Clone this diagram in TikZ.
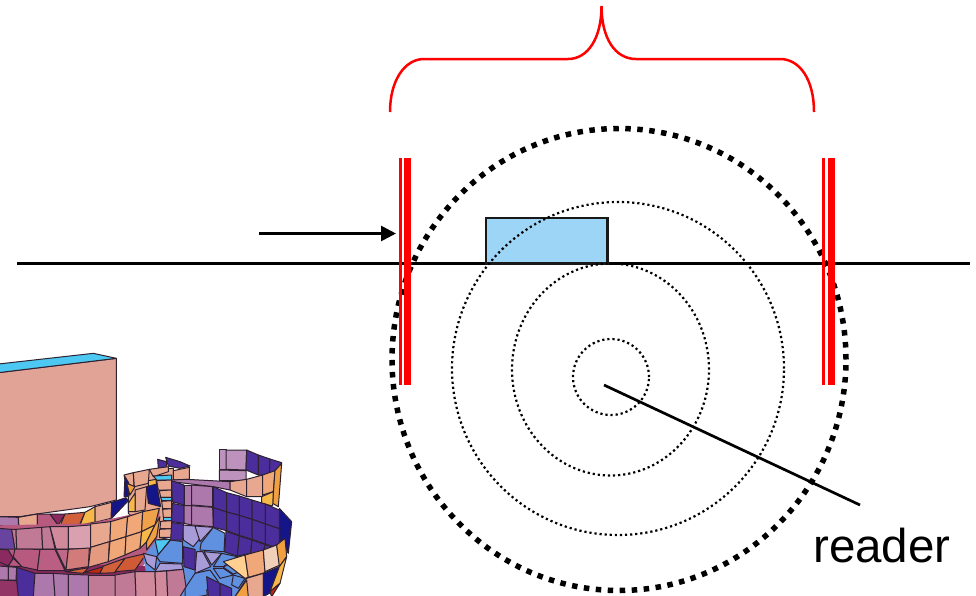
\documentclass[tikz,border=0pt]{standalone}
\usepackage{fontspec}
\setmainfont{Liberation Sans}
\usetikzlibrary{arrows.meta}
\definecolor{slab}{HTML}{E0A396}
\definecolor{cy}{HTML}{4CC8F2}
\definecolor{pk}{HTML}{E8A890}
\definecolor{pe}{HTML}{F0A878}
\definecolor{og}{HTML}{F0A040}
\definecolor{yl}{HTML}{F7B84A}
\definecolor{dk}{HTML}{15158A}
\definecolor{vi}{HTML}{4B2D9B}
\definecolor{mv}{HTML}{AD78AC}
\definecolor{ro}{HTML}{C07A95}
\definecolor{rs}{HTML}{D08A9C}
\definecolor{ma}{HTML}{B85A80}
\definecolor{wi}{HTML}{8A2A60}
\definecolor{sa}{HTML}{D2603A}
\definecolor{rd}{HTML}{C02810}
\definecolor{lv}{HTML}{A89CD8}
\definecolor{bl}{HTML}{6090E0}
\definecolor{pl}{HTML}{FFD090}
\definecolor{cr}{HTML}{F0D0B8}
\definecolor{sky}{HTML}{9DD5F6}
\definecolor{meshline}{HTML}{2E2230}
\tikzset{
  meshface/.style={draw=meshline,line width=1pt,line join=round},
  heavydots/.style={draw=black,line width=5.5pt,dash pattern=on 5.5pt off 6.5pt},
  finedots/.style={draw=black,line width=2.2pt,dash pattern=on 2.2pt off 2.9pt},
  redbar/.style={fill=red,draw=none},
  bracecurve/.style={draw=red,line width=2.5pt},
  blackline/.style={draw=black,line width=2.7pt},
  blockbox/.style={draw=black!90,line width=2.4pt,fill=sky},
  labeltext/.style={font=\fontsize{47.5}{47.5}\selectfont,inner sep=0pt,anchor=base west}
}
\newcommand\mq[2]{\filldraw[meshface,fill=#1] #2 -- cycle;}
\begin{document}
\begin{tikzpicture}[x=1pt,y=-1pt]
\useasboundingbox (0,0) rectangle (976,595);
% mesh figure, in coordinates of a 3x grid
\begin{scope}
\clip (0,0) rectangle (976,595);
\begin{scope}[yshift=-340pt,x=0.33333pt,y=-0.33333pt]
\mq{slab}{(-5,98)--(349,55)--(349,480)--(270,500)--(110,522)--(60,530)--(-5,530)}
\mq{cy}{(-5,72)--(280,40)--(349,55)--(-5,98)}
% back wave
\mq{vi}{(473,358)--(500,365)--(500,385)--(475,385)}
\mq{vi}{(497,352)--(540,365)--(570,378)--(540,385)--(505,378)}
\mq{pk}{(385,430)--(450,390)--(520,385)--(520,590)--(470,600)--(385,520)}
\mq{pk}{(372,405)--(400,398)--(402,440)--(385,470)}
\mq{pk}{(400,398)--(448,388)--(445,430)--(403,440)}
\mq{pk}{(405,450)--(440,440)--(435,510)--(405,515)}
\mq{pk}{(448,388)--(505,380)--(505,395)--(460,410)}
\mq{pk}{(520,392)--(568,382)--(568,418)--(520,420)}
\mq{cy}{(460,408)--(515,405)--(515,420)--(470,420)}
\mq{pk}{(470,422)--(515,420)--(515,450)--(475,450)}
\mq{pk}{(478,452)--(515,450)--(515,472)--(482,472)}
\mq{cy}{(482,472)--(515,472)--(515,482)--(485,482)}
\mq{pk}{(485,484)--(515,482)--(515,506)--(488,506)}
\mq{pk}{(488,508)--(515,506)--(515,532)--(490,532)}
\mq{cy}{(490,532)--(515,532)--(515,542)--(490,542)}
\mq{pk}{(482,544)--(515,542)--(515,566)--(480,566)}
\mq{pk}{(478,568)--(515,566)--(515,592)--(478,592)}
\mq{yl}{(445,422)--(468,418)--(470,440)--(445,445)}
\mq{dk}{(440,440)--(470,432)--(482,500)--(445,490)}
\mq{dk}{(375,410)--(387,430)--(385,470)--(372,470)}
\mq{og}{(380,430)--(405,440)--(390,465)}
\mq{yl}{(385,490)--(405,460)--(405,515)--(385,515)}
% upper strip
\mq{mv}{(-5,530)--(55,532)--(55,562)--(-5,556)}
\mq{pk}{(55,532)--(112,522)--(112,564)--(57,564)}
\mq{ma}{(112,522)--(150,522)--(175,556)--(112,565)}
\mq{wi}{(150,522)--(195,522)--(175,556)}
\mq{sa}{(195,522)--(255,517)--(238,556)--(180,558)}
\mq{yl}{(255,517)--(285,500)--(285,546)--(240,556)}
\mq{pk}{(285,500)--(335,487)--(333,535)--(285,547)}
\mq{dk}{(335,487)--(378,473)--(385,482)--(335,535)}
% band underlay
\fill[ma] (-5,556) -- (270,550) -- (480,505) -- (470,620) -- (420,690) -- (300,705) -- (-5,700) -- cycle;
\fill[wi] (-5,670) -- (560,680) -- (560,770) -- (-5,770) -- cycle;
% front band, first row
\mq{vi!70!mv}{(-5,565)--(35,568)--(45,627)--(-5,627)}
\mq{ro}{(35,568)--(48,568)--(50,627)--(45,627)}
\mq{ro}{(48,568)--(125,562)--(128,627)--(50,627)}
\mq{ro}{(125,562)--(150,560)--(165,627)--(128,627)}
\mq{rs}{(150,560)--(205,560)--(205,627)--(168,627)}
\mq{rs!80!white}{(205,560)--(272,555)--(272,625)--(205,627)}
\mq{pk}{(272,552)--(332,545)--(330,605)--(272,622)}
\mq{pe}{(332,545)--(383,530)--(378,590)--(330,605)}
\mq{pe}{(383,530)--(428,515)--(425,575)--(378,590)}
\mq{og!80!pe}{(428,515)--(478,505)--(465,555)--(425,575)}
% second row
\mq{wi}{(-5,627)--(25,630)--(40,655)--(25,678)--(-5,665)}
\mq{ma}{(25,678)--(40,655)--(65,680)}
\mq{ma}{(45,627)--(120,628)--(112,690)--(65,680)--(40,650)}
\mq{ma!90!rs}{(120,628)--(165,628)--(195,692)--(112,692)}
\mq{ma!70!rs}{(168,628)--(205,628)--(198,690)}
\mq{sa!35!rs}{(205,628)--(268,624)--(265,680)--(198,690)}
\mq{sa!20!pk}{(272,622)--(328,605)--(325,665)--(265,682)}
\mq{pe}{(330,605)--(378,590)--(375,645)--(325,665)}
\mq{pe}{(378,590)--(425,575)--(420,625)--(375,645)}
\mq{yl}{(425,575)--(465,555)--(440,605)--(420,625)}
\mq{og}{(465,555)--(480,530)--(470,590)--(440,630)--(440,605)}
% underside
\mq{sa}{(195,695)--(265,683)--(250,700)}
\mq{rd}{(250,698)--(310,680)--(300,700)}
\mq{sa}{(310,678)--(375,655)--(345,698)--(300,700)}
\mq{sa!90!rd}{(375,655)--(440,640)--(405,690)--(345,695)}
% rear right band
\mq{mv!80!white}{(658,328)--(678,328)--(678,388)--(658,388)}
\mq{mv!80!white}{(678,330)--(740,330)--(738,390)--(678,388)}
\mq{mv!80!white}{(658,390)--(738,392)--(738,422)--(658,422)}
\mq{vi}{(740,330)--(775,345)--(775,405)--(738,390)}
\mq{vi}{(775,345)--(810,357)--(808,405)--(775,405)}
\mq{vi}{(810,357)--(845,368)--(830,395)--(808,405)}
\mq{mv}{(515,420)--(560,418)--(690,425)--(690,450)--(640,440)--(515,425)}
\mq{pk}{(690,425)--(740,418)--(740,470)--(690,450)}
\mq{pk}{(740,418)--(788,405)--(788,470)--(740,470)}
\mq{pe}{(788,405)--(825,392)--(820,455)--(788,465)}
\mq{og}{(825,392)--(845,370)--(835,500)--(818,490)}
\mq{yl}{(785,470)--(820,455)--(818,498)--(785,490)}
\mq{dk}{(838,505)--(875,545)--(865,640)--(840,600)}
% inner lower surface
\fill[bl] (470,600) -- (720,590) -- (790,640) -- (780,770) -- (450,770) -- (430,650) -- cycle;
\mq{cy}{(465,600)--(512,598)--(475,645)}
\mq{bl}{(512,600)--(548,605)--(548,670)--(480,665)--(470,650)}
\mq{lv}{(430,640)--(470,650)--(465,690)--(440,670)}
\mq{lv}{(480,670)--(545,672)--(550,688)--(465,695)}
\mq{lv}{(548,555)--(585,558)--(600,595)--(580,620)--(550,600)}
\mq{lv}{(585,558)--(640,562)--(600,605)}
\mq{bl}{(640,562)--(675,580)--(672,635)--(600,630)--(603,610)}
\mq{vi}{(550,620)--(585,628)--(585,690)--(552,680)}
\mq{lv}{(590,635)--(608,635)--(632,680)--(585,700)}
\mq{lv}{(612,635)--(665,640)--(635,675)}
\mq{bl}{(665,640)--(712,650)--(670,680)--(640,680)}
\mq{bl}{(640,685)--(670,685)--(700,705)--(660,715)}
\mq{bl}{(670,682)--(715,650)--(735,690)--(700,702)}
\mq{bl}{(585,700)--(630,690)--(655,725)--(620,750)--(622,765)--(595,770)--(555,770)--(555,745)}
\mq{vi}{(620,710)--(660,730)--(660,770)--(625,770)}
\mq{vi}{(660,730)--(695,745)--(695,770)--(660,770)}
\mq{bl}{(700,705)--(735,715)--(715,745)--(695,735)}
% main wall
\mq{vi}{(515,422)--(552,435)--(552,495)--(517,485)}
\mq{vi}{(517,490)--(552,497)--(552,550)--(515,545)}
\mq{vi}{(515,548)--(550,552)--(548,600)--(512,600)}
\mq{mv}{(552,435)--(575,435)--(575,495)--(552,495)}
\mq{mv}{(575,435)--(638,440)--(638,500)--(575,495)}
\mq{mv}{(552,497)--(575,497)--(575,555)--(552,550)}
\mq{mv}{(575,497)--(638,502)--(640,560)--(575,555)}
\foreach \xa/\ta/\ma/\ba/\xb/\tb/\mb/\bb in {640/440/503/562/680/458/516/572,680/458/516/572/718/468/526/586,718/468/526/586/756/480/538/598,756/480/538/598/796/492/552/612,796/492/552/612/838/510/566/626}{
  \mq{vi}{(\xa,\ta)--(\xb,\tb)--(\xb,\mb)--(\xa,\ma)}
  \mq{vi}{(\xa,\ma)--(\xb,\mb)--(\xb,\bb)--(\xa,\ba)}
}
\mq{vi}{(678,574)--(718,588)--(712,648)--(674,636)}
\mq{vi}{(718,588)--(756,600)--(752,640)--(712,648)}
\mq{vi}{(756,600)--(796,614)--(790,632)--(752,642)}
\mq{vi}{(796,614)--(838,628)--(830,614)--(790,632)}
% peach front piece
\mq{pl}{(670,665)--(735,645)--(745,712)--(735,715)}
\mq{pe}{(735,645)--(790,630)--(795,698)--(745,712)}
\mq{cr}{(790,630)--(830,615)--(840,675)--(795,695)}
\mq{og}{(830,615)--(855,595)--(860,650)--(838,680)}
\mq{pk}{(740,715)--(790,700)--(790,770)--(705,770)}
\mq{og}{(705,770)--(740,720)--(745,770)}
\mq{dk}{(790,700)--(838,680)--(808,760)--(790,770)}
\mq{yl}{(838,680)--(860,650)--(840,730)--(810,755)}
\mq{rd}{(810,755)--(840,730)--(815,770)}
% bottom band
\mq{mv}{(-5,678)--(25,680)--(25,720)--(-5,720)}
\mq{mv}{(25,680)--(50,682)--(48,720)--(25,720)}
\mq{vi}{(50,682)--(105,700)--(100,770)--(52,770)}
\mq{mv}{(105,700)--(160,700)--(165,770)--(100,770)}
\mq{mv}{(160,700)--(205,703)--(205,770)--(165,770)}
\mq{mv}{(205,703)--(265,705)--(265,770)--(205,770)}
\mq{ro}{(265,705)--(345,705)--(345,770)--(265,770)}
\mq{ro}{(345,705)--(405,695)--(408,770)--(345,770)}
\mq{rs}{(405,695)--(465,695)--(468,770)--(408,770)}
\mq{rs}{(465,695)--(500,693)--(503,770)--(468,770)}
\mq{ro}{(500,693)--(550,688)--(558,740)--(540,770)--(503,770)}
\mq{wi!80!ma}{(-5,720)--(50,722)--(55,770)--(-5,770)}
\end{scope}
\end{scope}
% circles
\draw[heavydots] (619,359.5) ellipse [x radius=227pt,y radius=231pt];
\draw[blackline] (17,263.5) -- (970,263.5);
\node[blockbox,draw,minimum width=121.5pt,minimum height=45.5pt,inner sep=0pt,outer sep=0pt,anchor=north west] (block) at (486,218) {};
\draw[finedots] (618,368.5) ellipse [x radius=166pt,y radius=166.5pt];
\draw[finedots] (610.5,369.5) ellipse [x radius=98.5pt,y radius=106pt];
\draw[finedots] (611,377) ellipse [x radius=38pt,y radius=38pt];
% red bars
\fill[redbar] (399.3,157.5) rectangle (401.7,384.7);
\fill[redbar] (404,157.5) rectangle (411,384.7);
\fill[redbar] (822.3,157.5) rectangle (825,384.7);
\fill[redbar] (827.5,157.5) rectangle (834.5,384.7);
% brace
\draw[bracecurve] (390,112) .. controls (390,80) and (405,59) .. (424,59) -- (568,59) .. controls (588,59) and (601.5,38) .. (601.5,6) .. controls (601.5,38) and (615,59) .. (636,59) -- (780,59) .. controls (800,59) and (814,80) .. (814,112);
% arrow and reader
\coordinate (arrowstart) at (259,233.5);
\coordinate (arrowend) at (396,233.5);
\draw[blackline,-{Triangle[length=15pt,width=15pt]}] (arrowstart) -- (arrowend);
\coordinate (readerhub) at (604,385);
\coordinate (readerend) at (860,505);
\draw[blackline] (readerhub) -- (readerend);
\node[labeltext] (reader) at (813,562) {reader};
\end{tikzpicture}
\end{document}
